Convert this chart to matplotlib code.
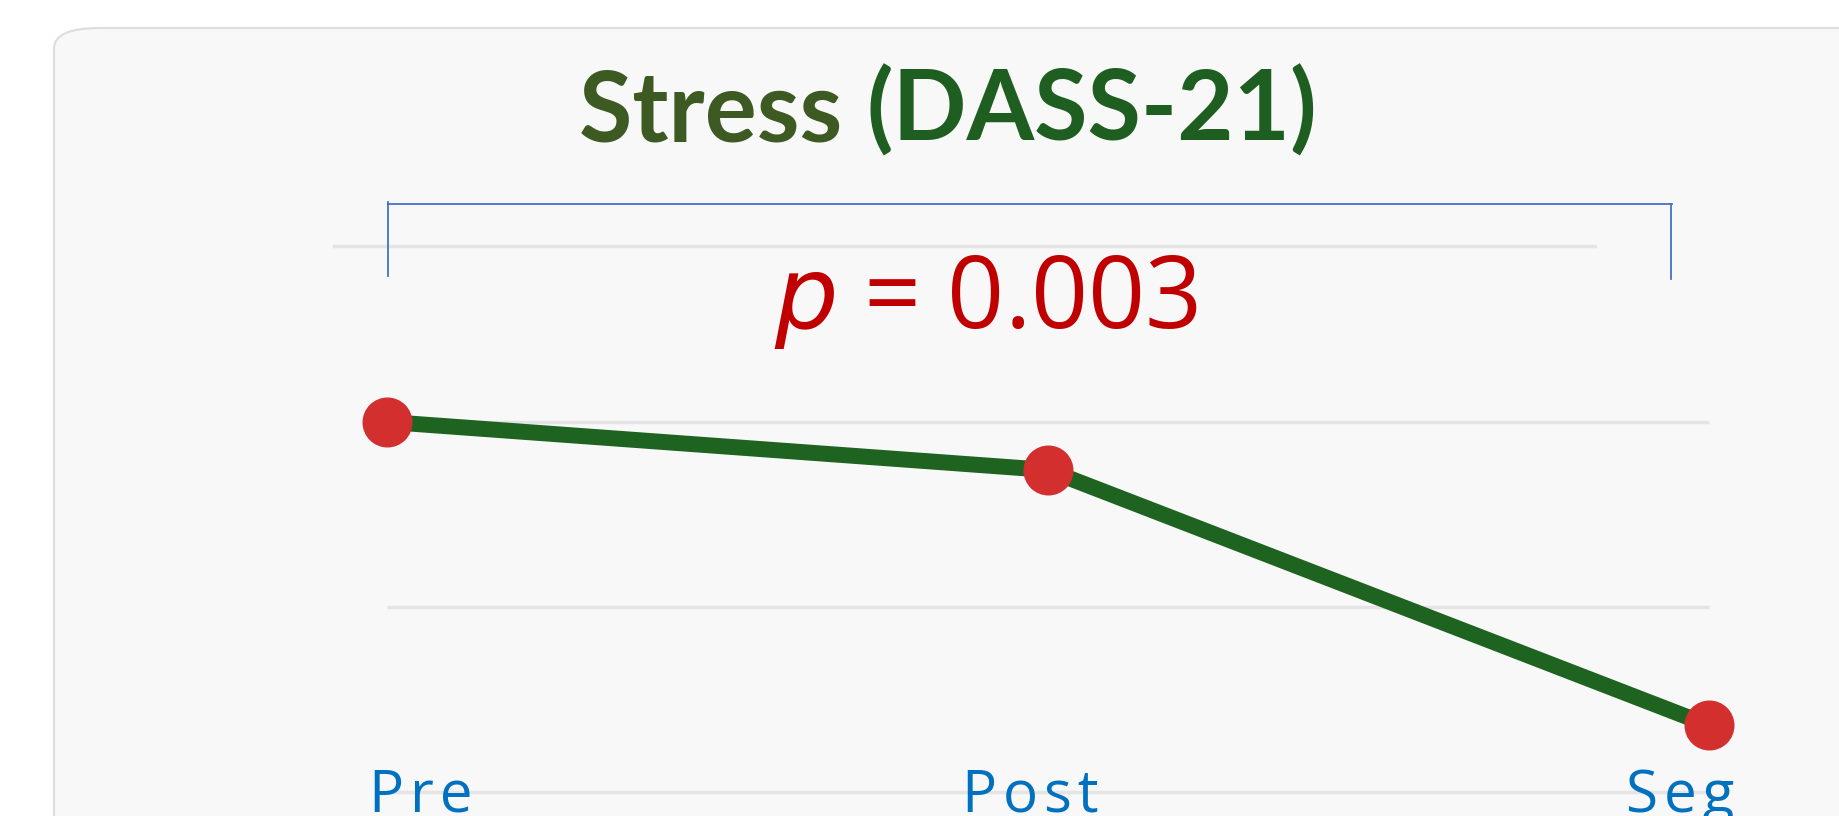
import matplotlib.pyplot as plt
from matplotlib.patches import FancyBboxPatch

# data
stages = ["Pre", "Post", "Seg"]
stress_means = [15.0, 13.7, 6.8]
grid_values = [15, 10, 5]
title_parts = ["Stress ", "(DASS-21)"]
p_label = r"$\it{p}$ = 0.003"

W, H = 1839, 816
fig = plt.figure(figsize=(W / 100, H / 100), dpi=100)
fig.patch.set_facecolor("white")


def fx(px):
    return px / W


def fy(py):
    return 1 - py / H


# rounded panel, runs past the right and bottom edges
panel = FancyBboxPatch((fx(54), fy(900)), fx(1900), (900 - 28) / H,
                       boxstyle="round,pad=0,rounding_size=0.025",
                       transform=fig.transFigure, facecolor="#f8f8f8",
                       edgecolor="#dedede", linewidth=1.6, zorder=-10)
fig.add_artist(panel)

ax = fig.add_axes([0, 0, 1, 1])
ax.set_facecolor("none")
ax.set_xlim(-0.5855, 2.1967)
ax.set_ylim(4.35, 26.4)
ax.axis("off")

# light gridlines (the top one is offset in the original)
ax.hlines(grid_values, 0, 2, color="#e4e4e4", linewidth=2.5, zorder=1)
fig.add_artist(plt.Line2D([fx(334), fx(1595)], [fy(246), fy(246)],
                          color="#e4e4e4", linewidth=2.5, zorder=-5))

x = list(range(len(stages)))
ax.plot(x, stress_means, color="#1e6320", linewidth=11.5, solid_capstyle="butt", zorder=2)
ax.plot(x, stress_means, linestyle="none", marker="o", markersize=35,
        markerfacecolor="#d32f2f", markeredgecolor="#d32f2f", zorder=3)

# category labels, sitting on the bottom edge, slightly letter-spaced
label_shift = [34, -18, -29]
for i, (name, dx) in enumerate(zip(stages, label_shift)):
    spaced = "\u200a".join(name)
    ax.annotate(spaced, xy=(i, 0), xycoords=("data", "figure fraction"),
                xytext=(dx, 4), textcoords="offset pixels",
                ha="center", va="baseline", fontsize=42,
                family=["Open Sans", "DejaVu Sans"], color="#0070c0")

# significance bracket
bc = "#4472c4"
fig.add_artist(plt.Line2D([fx(388), fx(1672)], [fy(204), fy(204)], color=bc, linewidth=1.3))
fig.add_artist(plt.Line2D([fx(388), fx(388)], [fy(202), fy(276)], color=bc, linewidth=1.3))
fig.add_artist(plt.Line2D([fx(1671), fx(1671)], [fy(204), fy(279)], color=bc, linewidth=1.3))

fig.text(fx(986), fy(328), p_label, ha="center", va="baseline",
         fontsize=72, family="Open Sans", color="#c00000")

# two-tone title, centred as a whole
title_colors = ["#3d5a23", "#1e5e20"]
title_kw = dict(va="baseline", fontsize=70, fontweight="bold", family="Lato")
t1 = fig.text(0, fy(141), title_parts[0], color=title_colors[0], ha="left", **title_kw)
t2 = fig.text(0, fy(141), title_parts[1], color=title_colors[1], ha="left", **title_kw)
fig.canvas.draw()
r = fig.canvas.get_renderer()
w1 = t1.get_window_extent(r).width
w2 = t2.get_window_extent(r).width
left = 948 - (w1 + w2) / 2
t1.set_x(fx(left))
t2.set_x(fx(left + w1))

fig.savefig("out.png", dpi=100, facecolor="white")
